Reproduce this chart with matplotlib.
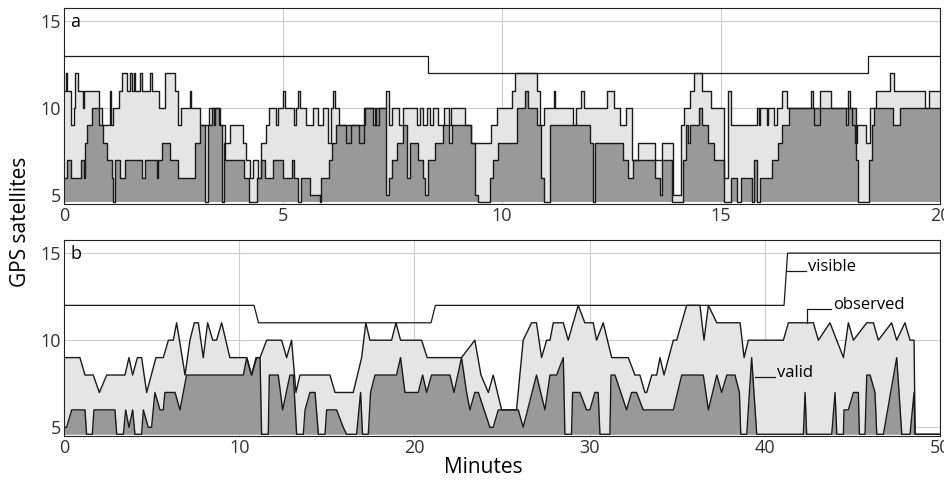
import numpy as np
import matplotlib
matplotlib.use("Agg")
import matplotlib.pyplot as plt

plt.rcParams['font.family'] = ['Open Sans', 'DejaVu Sans']

LOW = 4.6   # "none" - drawn along the bottom edge

# panel a: 20 minutes, step data (minute, satellites)
a_visible = [(0, 13), (8.3, 12), (18.35, 13), (20, 13)]

a_observed = [
    (0.00, 11), (0.05, 12), (0.07, 11), (0.16, 9), (0.22, 10), (0.25, 12), (0.31, 11),
    (0.44, 10), (0.46, 11), (0.79, 10), (0.87, 9), (1.05, 11), (1.07, 9), (1.13, 10),
    (1.25, 11), (1.32, 12), (1.44, 11), (1.50, 12), (1.56, 11), (1.60, 12), (1.63, 11),
    (1.74, 12), (1.78, 11), (1.97, 12), (2.00, 11), (2.16, 10), (2.31, 12), (2.54, 11),
    (2.61, 9), (2.67, 10), (2.88, 11), (2.91, 10), (3.11, 9), (3.30, 10), (3.42, 9),
    (3.44, 10), (3.56, 9), (3.68, 8), (3.79, 9), (4.08, 8), (4.15, 7), (4.24, 6),
    (4.31, 7), (4.42, 6), (4.50, 8), (4.62, 9), (4.69, 10), (4.84, 9), (4.88, 10),
    (4.99, 11), (5.05, 10), (5.26, 9), (5.30, 10), (5.34, 11), (5.38, 10), (5.53, 9),
    (5.68, 10), (5.79, 9), (5.91, 10), (6.02, 8), (6.10, 10), (6.15, 11), (6.18, 10),
    (6.29, 9), (6.44, 8), (6.55, 9), (6.74, 8), (6.86, 10), (7.09, 9), (7.20, 10),
    (7.35, 11), (7.41, 9), (7.50, 10), (7.65, 9), (7.73, 10), (8.05, 9), (8.13, 10),
    (8.20, 9), (8.28, 10), (8.35, 9), (8.42, 10), (8.55, 9), (8.68, 10), (8.78, 9),
    (8.83, 10), (9.16, 9), (9.30, 8), (9.75, 9), (9.88, 10), (10.22, 11), (10.30, 12),
    (10.80, 11), (10.87, 9), (10.95, 10), (11.18, 11), (11.22, 10), (11.63, 9),
    (11.70, 10), (11.80, 11), (11.88, 10), (12.40, 11), (12.55, 10), (12.70, 9),
    (12.82, 10), (12.97, 7), (13.11, 8), (13.50, 7), (13.65, 8), (13.91, 5), (14.08, 9),
    (14.15, 10), (14.30, 11), (14.38, 12), (14.57, 11), (14.78, 10), (15.08, 6),
    (15.15, 11), (15.22, 9), (15.83, 10), (15.87, 9), (15.90, 10), (16.05, 9),
    (16.08, 10), (16.22, 9), (16.27, 10), (16.40, 11), (16.50, 10), (17.05, 11),
    (17.10, 10), (17.13, 9), (17.25, 11), (17.52, 10), (17.91, 11), (17.95, 10),
    (18.00, 9), (18.05, 8), (18.10, 9), (18.30, 8), (18.40, 10), (18.55, 11),
    (18.86, 12), (18.95, 11), (19.66, 10), (19.75, 11), (20.00, 11),
]

a_valid = [
    (0.00, 6), (0.07, 7), (0.15, 6), (0.38, 7), (0.45, 6), (0.48, 8), (0.52, 9),
    (0.64, 10), (0.79, 9), (0.90, 8), (0.98, 7), (1.09, 6), (1.13, LOW), (1.16, 6),
    (1.17, 7), (1.28, 6), (1.40, 7), (1.78, 6), (1.85, 7), (2.12, 6), (2.15, 7),
    (2.23, 8), (2.42, 7), (2.61, 6), (2.99, 8), (3.11, 9), (3.21, LOW), (3.28, 9),
    (3.37, 10), (3.53, 9), (3.60, LOW), (3.65, 8), (3.68, 7), (4.10, 6), (4.22, LOW),
    (4.40, 6), (4.50, 7), (4.58, 6), (4.78, 7), (5.00, 6), (5.20, 7), (5.25, 6),
    (5.35, LOW), (5.42, 6), (5.62, 5), (5.85, LOW), (5.87, 6), (6.05, 7), (6.12, 8),
    (6.22, 9), (6.87, 10), (7.05, 9), (7.12, 10), (7.36, 5), (7.42, 6), (7.50, 7),
    (7.60, 8), (7.73, 9), (7.83, 6), (7.90, 8), (8.08, 7), (8.20, 6), (8.25, 5),
    (8.32, 7), (8.47, 8), (8.66, 9), (8.78, 8), (8.85, 9), (9.30, 8), (9.38, 5),
    (9.45, LOW), (9.72, 6), (9.80, 7), (9.92, 8), (10.35, 10), (10.53, 11), (10.60, 10),
    (10.80, 9), (10.90, 6), (10.95, LOW), (11.10, 9), (12.01, 8), (12.08, LOW),
    (12.12, 8), (12.77, 7), (12.87, 6), (13.00, 7), (13.50, 6), (13.61, 5), (13.65, 7),
    (13.88, LOW), (14.14, 7), (14.20, 9), (14.25, 8), (14.30, 9), (14.50, 10),
    (14.57, 9), (14.70, 8), (14.85, 7), (15.07, LOW), (15.22, 6), (15.37, LOW),
    (15.45, 6), (15.70, LOW), (15.75, 7), (15.83, LOW), (15.88, 6), (16.16, 7),
    (16.30, 8), (16.40, 9), (16.55, 10), (17.86, 9), (17.90, 10), (18.08, 7),
    (18.12, LOW), (18.38, 7), (18.45, 9), (18.50, 10), (18.93, 9), (19.09, 10),
    (20.00, 10),
]

# panel b: 50 minutes, sampled data joined by lines
b_visible = [(0, 12), (10.85, 12), (11.1, 11), (20.95, 11), (21.2, 12),
             (41.1, 12), (41.3, 15), (50, 15)]

b_observed = [
    (0, 9), (0.91, 9), (1.20, 8), (1.67, 8), (2.02, 7), (2.44, 8), (3.48, 8), (3.71, 9),
    (3.92, 8), (4.19, 9), (4.43, 9), (4.72, 7), (5.25, 9), (5.67, 9), (5.96, 10),
    (6.24, 10), (6.43, 11), (6.91, 8), (7.19, 10), (7.44, 11), (7.67, 11), (7.95, 9),
    (8.20, 11), (8.49, 10), (8.71, 10), (9.00, 11), (9.47, 9), (10.43, 9), (10.71, 8),
    (11.00, 9), (11.19, 9), (11.57, 10), (12.42, 10), (12.71, 9), (12.99, 10),
    (13.24, 7), (13.47, 8), (15.18, 8), (15.47, 7), (16.51, 7), (16.99, 9), (17.23, 11),
    (17.46, 10), (18.70, 10), (18.95, 11), (19.21, 10), (20.41, 10), (20.73, 9),
    (22.69, 9), (23.45, 10), (23.80, 8), (24.22, 7), (24.50, 8), (24.98, 6), (25.83, 6),
    (26.21, 10), (26.69, 11), (26.97, 11), (27.26, 9), (27.55, 10), (27.74, 10),
    (27.93, 11), (28.50, 11), (28.78, 10), (29.35, 12), (29.73, 11), (30.21, 11),
    (30.40, 10), (30.78, 11), (31.26, 9), (32.21, 9), (32.59, 8), (32.87, 8),
    (33.16, 7), (33.26, 7), (33.55, 8), (33.83, 8), (34.02, 9), (34.25, 8), (34.78, 10),
    (34.97, 10), (35.54, 12), (36.30, 12), (36.53, 10), (36.78, 12), (37.26, 11),
    (38.59, 11), (38.82, 9), (39.06, 10), (41.06, 10), (41.35, 11), (42.77, 11),
    (43.06, 10), (43.72, 11), (44.49, 9), (44.77, 11), (45.06, 10), (45.82, 11),
    (46.20, 11), (46.48, 10), (47.24, 11), (47.53, 10), (48.00, 11), (48.29, 10),
    (48.52, 10), (48.58, LOW), (50, LOW),
]

b_valid = [
    (0, 5), (0.15, 5), (0.44, 6), (1.20, 6), (1.29, LOW), (1.62, LOW), (1.71, 6),
    (2.91, 6), (3.01, LOW), (3.39, LOW), (3.52, 6), (3.71, 5), (3.92, 6), (4.05, LOW),
    (4.43, LOW), (4.53, 6), (4.81, 5), (5.00, 5), (5.19, 7), (5.48, 6), (5.67, 6),
    (5.76, 7), (6.34, 7), (6.62, 6), (7.00, 8), (10.24, 8), (10.43, 9), (10.71, 8),
    (10.96, 9), (11.19, 9), (11.28, LOW), (11.66, LOW), (11.72, 8), (12.23, 8),
    (12.48, 6), (12.90, 8), (13.09, 8), (13.28, LOW), (13.66, LOW), (13.76, 6),
    (14.04, 7), (14.33, 7), (14.52, LOW), (14.90, LOW), (14.99, 6), (15.56, 6),
    (15.94, 5), (16.13, LOW), (16.70, LOW), (16.93, 7), (17.04, LOW), (17.37, LOW),
    (17.50, 7), (17.75, 8), (18.98, 8), (19.21, 9), (19.46, 7), (20.22, 7), (20.47, 8),
    (20.70, 7), (20.98, 8), (22.03, 8), (22.26, 7), (22.69, 9), (22.98, 7), (23.17, 6),
    (23.45, 7), (23.65, 7), (24.31, 5), (24.50, 5), (24.79, 6), (25.93, 6), (26.21, 5),
    (26.97, 8), (27.45, 6), (27.74, 8), (28.12, 8), (28.50, 9), (28.59, LOW),
    (28.97, LOW), (29.03, 7), (29.45, 7), (29.83, 6), (30.02, 6), (30.30, 7), (30.49, 7),
    (30.59, LOW), (31.16, LOW), (31.22, 8), (31.45, 8), (32.11, 6), (32.40, 7),
    (32.68, 7), (33.06, 6), (34.78, 6), (35.26, 8), (36.49, 8), (36.78, 6), (37.26, 8),
    (37.54, 7), (37.83, 8), (38.30, 8), (38.55, 7), (38.63, LOW), (38.97, LOW),
    (39.25, 9), (39.54, LOW), (42.20, LOW), (42.30, 7), (42.39, LOW), (43.82, LOW),
    (44.01, 7), (44.11, LOW), (44.49, LOW), (44.52, 6), (44.77, 6), (45.06, 7),
    (45.34, 7), (45.40, LOW), (45.72, LOW), (45.82, 8), (46.01, 8), (46.29, 7),
    (46.39, LOW), (46.77, LOW), (47.53, 9), (47.82, LOW), (48.29, LOW), (48.52, 7),
    (48.58, LOW), (50, LOW),
]

LIGHT = '#e5e5e5'
DARK = '#999999'
LINE = '#1a1a1a'

fig = plt.figure(figsize=(9.45, 4.82), dpi=100)
ax_a = fig.add_axes([0.0677, 0.577, 0.927, 0.4066])
ax_b = fig.add_axes([0.0677, 0.0954, 0.927, 0.4066])


def unpack(pairs):
    arr = np.array(pairs, dtype=float)
    return arr[:, 0], arr[:, 1]


# panel a (steps)
t, v = unpack(a_observed)
ax_a.fill_between(t, LOW, v, step='post', color=LIGHT, lw=0)
t2, v2 = unpack(a_valid)
ax_a.fill_between(t2, LOW, v2, step='post', color=DARK, lw=0)
ax_a.step(t, v, where='post', color=LINE, lw=1.0)
ax_a.step(t2, v2, where='post', color=LINE, lw=1.0)
t3, v3 = unpack(a_visible)
ax_a.step(t3, v3, where='post', color=LINE, lw=0.9)

# panel b (lines)
t, v = unpack(b_observed)
ax_b.fill_between(t, LOW, v, color=LIGHT, lw=0)
t2, v2 = unpack(b_valid)
ax_b.fill_between(t2, LOW, v2, color=DARK, lw=0)
ax_b.plot(t, v, color=LINE, lw=1.0)
ax_b.plot(t2, v2, color=LINE, lw=1.0)
t3, v3 = unpack(b_visible)
ax_b.plot(t3, v3, color=LINE, lw=0.9)

for ax, xmax, step, lab in [(ax_a, 20, 5, 'a'), (ax_b, 50, 10, 'b')]:
    ax.set_xlim(0, xmax)
    ax.set_ylim(4.5, 15.75)
    ax.set_xticks(np.arange(0, xmax + 1, step))
    ax.set_yticks([5, 10, 15])
    ax.grid(True, color='#cccccc', lw=0.8)
    ax.set_axisbelow(True)
    ax.tick_params(length=0, labelsize=13, pad=2, colors='#333333')
    for s in ax.spines.values():
        s.set_linewidth(0.8)
        s.set_color('#222222')
    ax.text(0.007, 0.975, lab, transform=ax.transAxes, va='top', ha='left', fontsize=13)

# labels for the series in panel b
ax_b.plot([41.25, 42.35], [14.0, 14.0], color=LINE, lw=0.9)
ax_b.text(42.45, 14.0, 'visible', va='baseline', ha='left', fontsize=12)
ax_b.plot([42.4, 42.4, 43.8], [11.0, 11.8, 11.8], color=LINE, lw=0.9)
ax_b.text(43.9, 11.8, 'observed', va='baseline', ha='left', fontsize=12)
ax_b.plot([39.45, 40.6], [7.9, 7.9], color=LINE, lw=0.9)
ax_b.text(40.7, 7.9, 'valid', va='baseline', ha='left', fontsize=12)

fig.text(0.022, 0.539, 'GPS satellites', rotation=90, va='center', ha='center', fontsize=15)
fig.text(0.511, 0.008, 'Minutes', va='bottom', ha='center', fontsize=15)

fig.savefig('out.png', dpi=100)
